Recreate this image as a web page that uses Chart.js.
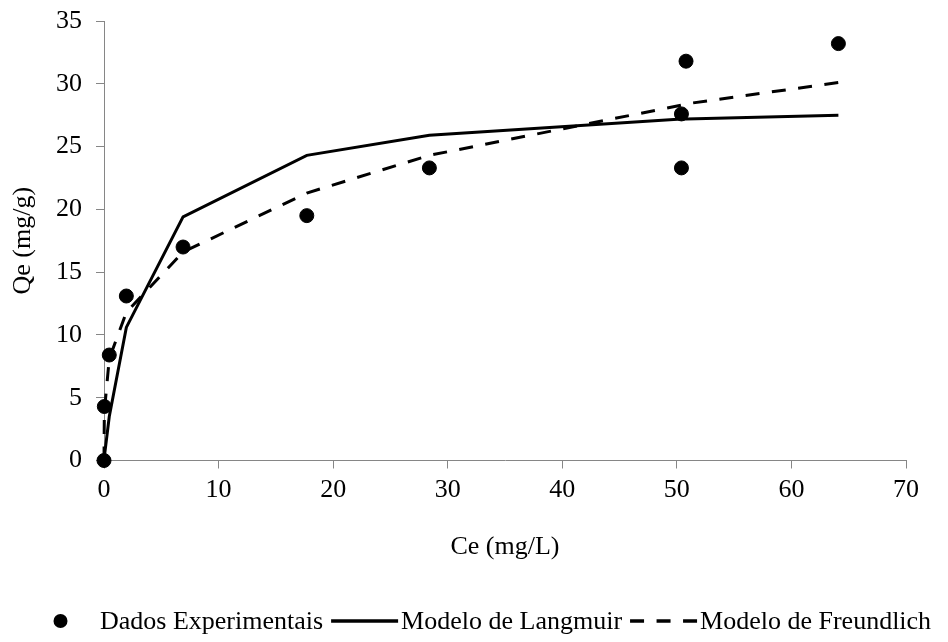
<!DOCTYPE html>
<html>
<head>
<meta charset="utf-8">
<script src="https://cdn.jsdelivr.net/npm/chart.js@4/dist/chart.umd.min.js"></script>
<style>
  html, body { margin: 0; padding: 0; background: #fff; }
  #wrap { width: 948px; height: 642px; position: relative; }
</style>
</head>
<body>
<div id="wrap"><canvas id="chart"></canvas></div>
<script>
// experimental points
const ceExp = [0, 0.03, 0.46, 1.95, 6.9, 17.7, 28.4, 50.4, 50.4, 50.8, 64.1];
const qeExp = [0, 4.3, 8.4, 13.1, 17.0, 19.5, 23.3, 27.6, 23.3, 31.8, 33.2];

// model curves, evaluated at the same Ce values
const ceModel = [0, 0.03, 0.46, 1.95, 6.9, 17.7, 28.4, 50.4, 50.8, 64.1];
const qLangmuir = [0, 0.3, 3.5, 10.6, 19.4, 24.3, 25.9, 27.2, 27.2, 27.5];
const qFreundlich = [0, 3.9, 8.1, 11.8, 16.6, 21.3, 24.3, 28.3, 28.4, 30.1];

const seriesNames = ['Dados Experimentais', 'Modelo de Langmuir', 'Modelo de Freundlich'];

const FONT = 'Liberation Serif';
const axisGrey = '#868686';

const toXY = (xs, ys) => xs.map((x, i) => ({ x: x, y: ys[i] }));

// legend drawn along the bottom: marker box then label
const bottomLegend = {
  id: 'bottomLegend',
  afterDraw(chart) {
    const ctx = chart.ctx;
    const y = 621;
    const markerW = 67;
    let x = 27;
    ctx.save();
    ctx.font = '26px "' + FONT + '"';
    ctx.textBaseline = 'middle';
    chart.data.datasets.forEach((ds, i) => {
      ctx.strokeStyle = '#000';
      ctx.fillStyle = '#000';
      if (i === 0) {
        ctx.beginPath();
        ctx.arc(x + markerW / 2, y, 7, 0, Math.PI * 2);
        ctx.fill();
        x += markerW + 6;
      } else {
        ctx.lineWidth = 3.5;
        ctx.setLineDash(ds.borderDash || []);
        ctx.beginPath();
        ctx.moveTo(x, y);
        ctx.lineTo(x + markerW, y);
        ctx.stroke();
        ctx.setLineDash([]);
        x += markerW + 3;
      }
      ctx.fillText(ds.label, x, y + 1);
      x += ctx.measureText(ds.label).width + 8;
    });
    ctx.restore();
  }
};

new Chart(document.getElementById('chart'), {
  type: 'scatter',
  data: {
    datasets: [
      {
        label: seriesNames[0],
        data: toXY(ceExp, qeExp),
        backgroundColor: '#000',
        borderColor: '#000',
        pointRadius: 7,
        pointHoverRadius: 7,
        showLine: false,
        clip: false,
        order: 0
      },
      {
        label: seriesNames[1],
        data: toXY(ceModel, qLangmuir),
        borderColor: '#000',
        borderWidth: 3,
        pointRadius: 0,
        showLine: true,
        fill: false,
        clip: false,
        order: 1
      },
      {
        label: seriesNames[2],
        data: toXY(ceModel, qFreundlich),
        borderColor: '#000',
        borderWidth: 3,
        borderDash: [14, 12.5],
        pointRadius: 0,
        showLine: true,
        fill: false,
        clip: false,
        order: 2
      }
    ]
  },
  options: {
    responsive: true,
    maintainAspectRatio: false,
    animation: false,
    layout: { padding: { left: 4, right: 42, top: 21, bottom: 62 } },
    plugins: {
      legend: { display: false },
      tooltip: { enabled: false }
    },
    scales: {
      x: {
        type: 'linear',
        min: 0,
        max: 70,
        afterFit: (s) => { s.height = 119.5; },
        ticks: { stepSize: 10, color: '#000', padding: 6, font: { family: FONT, size: 26 } },
        grid: { drawOnChartArea: false, tickLength: 8, color: axisGrey },
        border: { color: axisGrey, width: 1 },
        title: { display: true, text: 'Ce (mg/L)', color: '#000', padding: { top: 10, bottom: 17 }, font: { family: FONT, size: 26 } }
      },
      y: {
        min: 0,
        max: 35,
        afterFit: (s) => { s.width = 100; s.paddingTop = 0; s.paddingBottom = 0; },
        ticks: { stepSize: 5, color: '#000', padding: 14, font: { family: FONT, size: 26 } },
        grid: { drawOnChartArea: false, tickLength: 8, color: axisGrey },
        border: { color: axisGrey, width: 1 },
        title: { display: true, text: 'Qe (mg/g)', color: '#000', padding: { bottom: 10 }, font: { family: FONT, size: 26 } }
      }
    }
  },
  plugins: [bottomLegend]
});
</script>
</body>
</html>
